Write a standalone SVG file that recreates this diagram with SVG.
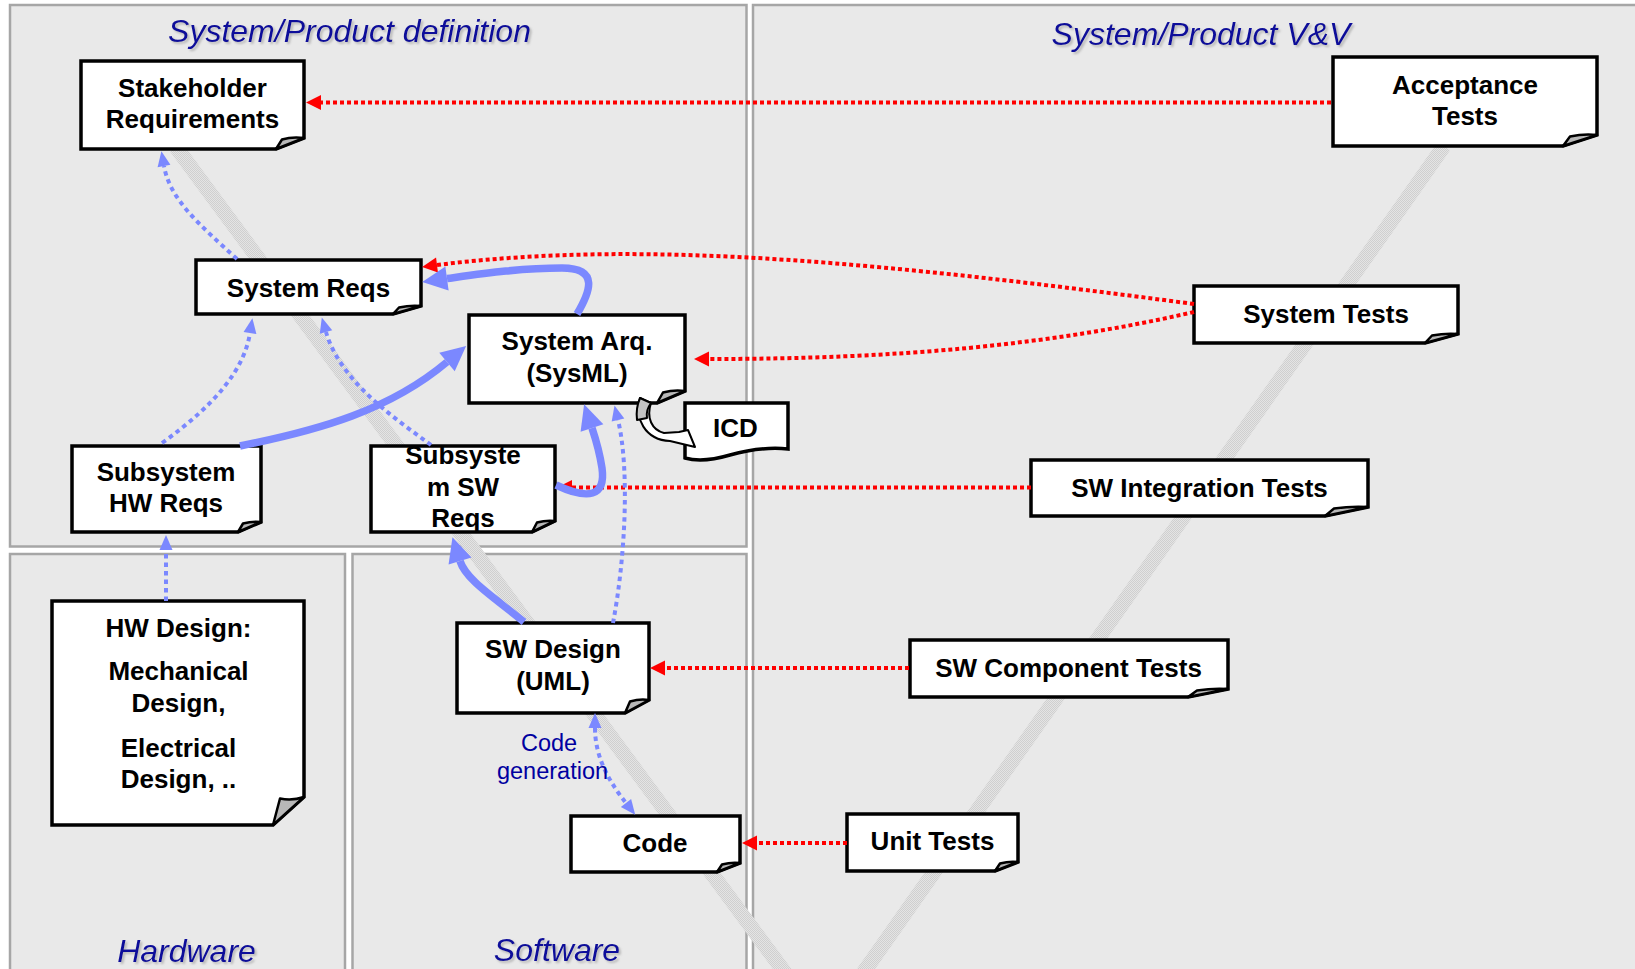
<svg xmlns="http://www.w3.org/2000/svg" width="1635" height="969" viewBox="0 0 1635 969">
  <defs>
    <style>
      .panel { fill: #e9e9e9; stroke: #a6a6a6; stroke-width: 2.5; }
      .title { font-family: "Liberation Sans", Arial, sans-serif; font-style: italic; font-size: 32px; fill: #10109a; text-anchor: middle; }
      .box { fill: #ffffff; stroke: #000000; stroke-width: 3.5; stroke-linejoin: miter; }
      .curl { fill: #b8b8b8; stroke: #000000; stroke-width: 2.5; stroke-linejoin: round; }
      .lbl { font-family: "Liberation Sans", Arial, sans-serif; font-weight: bold; font-size: 26px; fill: #000000; text-anchor: middle; }
      .note { font-family: "Liberation Sans", Arial, sans-serif; font-size: 23.5px; fill: #0000a0; text-anchor: middle; }
      .red { fill: none; stroke: #ff0000; stroke-width: 4; stroke-dasharray: 4 3; }
      .bdot { fill: none; stroke: #7b88ff; stroke-width: 4; stroke-dasharray: 4.5 4; }
      .bthick { fill: none; stroke: #7b88ff; stroke-width: 7.5; }
      .vband { fill: none; stroke: url(#dith); stroke-width: 15; }
    </style>
    <pattern id="dith" width="2" height="2" patternUnits="userSpaceOnUse">
      <rect width="2" height="2" fill="#e4e4e4"/>
      <rect width="1" height="1" fill="#cfcfcf"/>
      <rect x="1" y="1" width="1" height="1" fill="#cfcfcf"/>
    </pattern>
    <filter id="shadow" x="-5%" y="-20%" width="110%" height="150%">
      <feDropShadow dx="2" dy="2" stdDeviation="0.8" flood-color="#7a7a7a" flood-opacity="0.45"/>
    </filter>
    <marker id="hRed" markerUnits="userSpaceOnUse" markerWidth="16" markerHeight="16" refX="0" refY="7.5" orient="auto" overflow="visible">
      <path d="M0,0 L15,7.5 L0,15 Z" fill="#ff0000"/>
    </marker>
    <marker id="hBlue" markerUnits="userSpaceOnUse" markerWidth="16" markerHeight="14" refX="0" refY="6.5" orient="auto-start-reverse" overflow="visible">
      <path d="M0,0 L15,6.5 L0,13 Z" fill="#7b88ff"/>
    </marker>
    <marker id="hThick" markerUnits="userSpaceOnUse" markerWidth="26" markerHeight="24" refX="0" refY="12" orient="auto" overflow="visible">
      <path d="M0,0 L25,12 L0,24 Z" fill="#7b88ff"/>
    </marker>
  </defs>

  <rect width="1635" height="969" fill="#ffffff"/>

  <!-- swimlane panels -->
  <g id="panels">
    <rect class="panel" x="10" y="5" width="736.5" height="541.5"/>
    <rect class="panel" x="753" y="5" width="900" height="980"/>
    <rect class="panel" x="10" y="554" width="335" height="430"/>
    <rect class="panel" x="352.5" y="554" width="394" height="430"/>
  </g>

  <!-- V-model backdrop stripes -->
  <g id="v-shape">
    <path class="vband" d="M176,147 L794,985"/>
    <path class="vband" d="M1444,146 L854,986"/>
  </g>

  <g id="titles" filter="url(#shadow)">
    <text class="title" x="349.5" y="42">System/Product definition</text>
    <text class="title" x="1201" y="44.5">System/Product V&amp;V</text>
    <text class="title" x="186.5" y="961.5">Hardware</text>
    <text class="title" x="557" y="961">Software</text>
  </g>

  <!-- document nodes -->
  <g id="stakeholder-req">
    <path class="box" d="M81,61 H304 V138 L276,149 H81 Z"/>
    <path class="curl" d="M276,149 L282,139.5 Q292,136.5 304,138 Z"/>
    <text class="lbl" x="192.5" y="96.5">Stakeholder</text>
    <text class="lbl" x="192.5" y="128">Requirements</text>
  </g>

  <g id="system-reqs">
    <path class="box" d="M196,260 H421 V306 L393,314 H196 Z"/>
    <path class="curl" d="M393,314 L399,307.5 Q410,305 421,306 Z"/>
    <text class="lbl" x="308.5" y="296.5">System Reqs</text>
  </g>

  <g id="system-arq">
    <path class="box" d="M469,315 H685 V391 L657,403 H469 Z"/>
    <path class="curl" d="M657,403 L663,392.5 Q674,389.5 685,391 Z"/>
    <text class="lbl" x="577" y="349.5">System Arq.</text>
    <text class="lbl" x="577" y="382">(SysML)</text>
  </g>

  <g id="icd">
    <path class="box" d="M685,403 H788 V449 C768,447 748,450 730,455 C713,460 699,462 685,458 Z"/>
    <text class="lbl" x="735.5" y="437">ICD</text>
    <!-- curved block arrow from the SysML sheet into the ICD -->
    <path d="M640,398 C634,418 645,440 670,441 L695,447 L688,430 L679,432 L664,433 C652,430 646,418 651,403 Z" fill="#ffffff" stroke="#000000" stroke-width="2" stroke-linejoin="round"/>
    <path d="M640,398 C637,405 636,412 637,420 L647,418 C646,412 648,407 651,403 Z" fill="#c4c4c4" stroke="#000000" stroke-width="2" stroke-linejoin="round"/>
  </g>

  <g id="subsystem-hw-reqs">
    <path class="box" d="M72,446 H261 V522 L238,532 H72 Z"/>
    <path class="curl" d="M238,532 L243,523.5 Q252,521 261,522 Z"/>
    <text class="lbl" x="166" y="480.5">Subsystem</text>
    <text class="lbl" x="166" y="512">HW Reqs</text>
  </g>

  <g id="subsystem-sw-reqs">
    <path class="box" d="M371,446 H555 V521 L532,532 H371 Z"/>
    <path class="curl" d="M532,532 L537,522.5 Q546,520 555,521 Z"/>
    <text class="lbl" x="463" y="463.5">Subsyste</text>
    <text class="lbl" x="463" y="495.5">m SW</text>
    <text class="lbl" x="463" y="527">Reqs</text>
  </g>

  <g id="acceptance-tests">
    <path class="box" d="M1333,57 H1597 V135 L1563,146 H1333 Z"/>
    <path class="curl" d="M1563,146 L1570,136.5 Q1584,133.5 1597,135 Z"/>
    <text class="lbl" x="1465" y="93.5">Acceptance</text>
    <text class="lbl" x="1465" y="125">Tests</text>
  </g>

  <g id="system-tests">
    <path class="box" d="M1194,286 H1458 V334 L1425,343 H1194 Z"/>
    <path class="curl" d="M1425,343 L1432,335.5 Q1445,333 1458,334 Z"/>
    <text class="lbl" x="1326" y="323">System Tests</text>
  </g>

  <g id="sw-integration-tests">
    <path class="box" d="M1031,460 H1368 V507 L1325,516 H1031 Z"/>
    <path class="curl" d="M1325,516 L1334,508.5 Q1351,506 1368,507 Z"/>
    <text class="lbl" x="1199.5" y="496.5">SW Integration Tests</text>
  </g>

  <g id="hw-design">
    <path class="box" d="M52,601 H304 V797 L273,825 H52 Z"/>
    <path class="curl" d="M273,825 L280,798.5 Q292,801 304,797 Z"/>
    <text class="lbl" x="178.5" y="636.7">HW Design:</text>
    <text class="lbl" x="178.5" y="680">Mechanical</text>
    <text class="lbl" x="178.5" y="712">Design,</text>
    <text class="lbl" x="178.5" y="756.7">Electrical</text>
    <text class="lbl" x="178.5" y="788.3">Design, ..</text>
  </g>

  <g id="sw-design">
    <path class="box" d="M457,623 H649 V700 L625,713 H457 Z"/>
    <path class="curl" d="M625,713 L630,701.5 Q640,698.5 649,700 Z"/>
    <text class="lbl" x="553" y="658.3">SW Design</text>
    <text class="lbl" x="553" y="690">(UML)</text>
  </g>

  <g id="code">
    <path class="box" d="M571,816 H740 V863 L717,872 H571 Z"/>
    <path class="curl" d="M717,872 L722,864.5 Q731,862 740,863 Z"/>
    <text class="lbl" x="655" y="851.7">Code</text>
  </g>

  <g id="sw-component-tests">
    <path class="box" d="M910,640 H1228 V689 L1188,697 H910 Z"/>
    <path class="curl" d="M1188,697 L1197,690.5 Q1213,688 1228,689 Z"/>
    <text class="lbl" x="1068.5" y="676.7">SW Component Tests</text>
  </g>

  <g id="unit-tests">
    <path class="box" d="M847,814 H1018 V862 L995,871 H847 Z"/>
    <path class="curl" d="M995,871 L1000,863.5 Q1009,861 1018,862 Z"/>
    <text class="lbl" x="932.5" y="850">Unit Tests</text>
  </g>

  <!-- connectors -->
  <g id="connectors">
    <!-- verification links (tests to artefacts) -->
    <path class="red" marker-end="url(#hRed)" d="M1331,102.5 H321"/>
    <path class="red" marker-end="url(#hRed)" d="M1194,304 C900,265 650,238 437,265"/>
    <path class="red" marker-end="url(#hRed)" d="M1194,312 C1050,345 900,359 709,359"/>
    <path class="red" marker-end="url(#hRed)" d="M1031,487.5 H572"/>
    <path class="red" marker-end="url(#hRed)" d="M909,668 H665"/>
    <path class="red" marker-end="url(#hRed)" d="M847,843 H757"/>

    <!-- traceability links -->
    <path class="bdot" marker-end="url(#hBlue)" d="M237,259 C200,225 170,200 164,166"/>
    <path class="bdot" marker-end="url(#hBlue)" d="M162,443 C215,405 244,370 250,333"/>
    <path class="bdot" marker-end="url(#hBlue)" d="M431,445 C390,415 340,380 326,332"/>
    <path class="bdot" marker-end="url(#hBlue)" d="M166,601 V550"/>
    <path class="bdot" marker-end="url(#hBlue)" d="M613,623 C625,560 630,470 618,420"/>
    <path class="bdot" marker-start="url(#hBlue)" marker-end="url(#hBlue)" d="M595,728 C595,760 612,785 626,803"/>

    <!-- refinement flows -->
    <path class="bthick" marker-end="url(#hThick)" d="M577,314 C590,292 600,268 562,268 C520,268 480,274 447,278.5"/>
    <path class="bthick" marker-end="url(#hThick)" d="M240,446 C320,430 390,410 447,362"/>
    <path class="bthick" marker-end="url(#hThick)" d="M524,622 C495,598 466,580 460,561"/>
    <path class="bthick" marker-end="url(#hThick)" d="M556,485 C588,500 606,497 602,468 C600,455 596,440 592,428"/>
  </g>

  <g id="code-generation-label">
    <text class="note" x="549" y="750.7">Code</text>
    <text class="note" x="552.5" y="779.3">generation</text>
  </g>
</svg>
